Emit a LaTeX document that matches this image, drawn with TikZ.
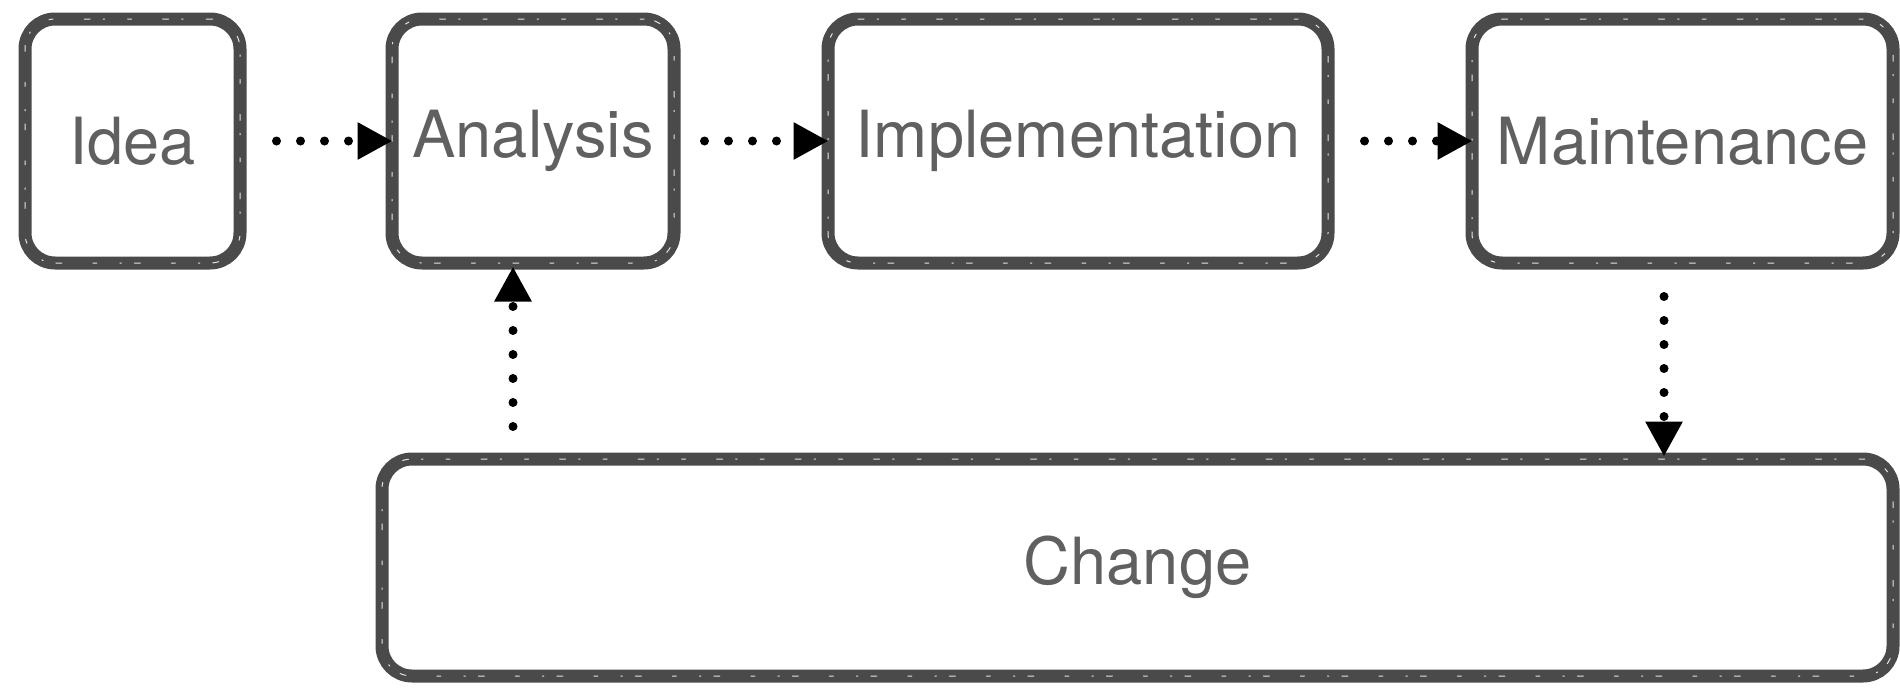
\documentclass[tikz,border=0pt]{standalone}
\usepackage{fontspec}
\setmainfont{TeX Gyre Heros}
\usetikzlibrary{arrows.meta}
\definecolor{boxgray}{HTML}{4A4A4A}
\definecolor{txtgray}{HTML}{606060}
\tikzset{
  box/.style={draw=boxgray, line width=13pt, rounded corners=30pt, inner sep=0pt,
    text=txtgray, font=\fontsize{65}{78}\selectfont,
    postaction={draw=white!85!boxgray, line width=1pt, line cap=round,
      dash pattern=on 4pt off 23pt on 1.5pt off 13pt on 6pt off 31pt}},
  flow/.style={line width=9pt, line cap=round, dash pattern=on 0pt off 24pt,
    -{Triangle[length=35pt,width=35pt]}, black}
}
\begin{document}
\begin{tikzpicture}[x=1pt,y=-1pt]
\useasboundingbox (0,0) rectangle (1900,688);
\node[box, minimum width=215pt, minimum height=244pt] (idea) at (132.5,141) {Idea};
\node[box, minimum width=282pt, minimum height=244pt] (analysis) at (533,141) {Analysis};
\node[box, minimum width=500pt, minimum height=244pt] (impl) at (1078,141) {Implementation};
\node[box, minimum width=421pt, minimum height=244pt] (maint) at (1682.5,141) {Maintenance};
\node[box, minimum width=1511pt, minimum height=217pt] (change) at (1137.5,567.5) {Change};
\coordinate (up) at (513,0);
\coordinate (down) at (1664,0);
\draw[flow, shorten <=30pt, shorten >=-7pt] (idea.east) -- (analysis.west);
\draw[flow, shorten <=24pt, shorten >=-7pt] (analysis.east) -- (impl.west);
\draw[flow, shorten <=30pt, shorten >=-7pt] (impl.east) -- (maint.west);
\draw[flow, shorten <=26pt, shorten >=-3pt] (change.north -| up) -- (analysis.south -| up);
\draw[flow, shorten <=27pt, shorten >=-4pt] (maint.south -| down) -- (change.north -| down);
\end{tikzpicture}
\end{document}
